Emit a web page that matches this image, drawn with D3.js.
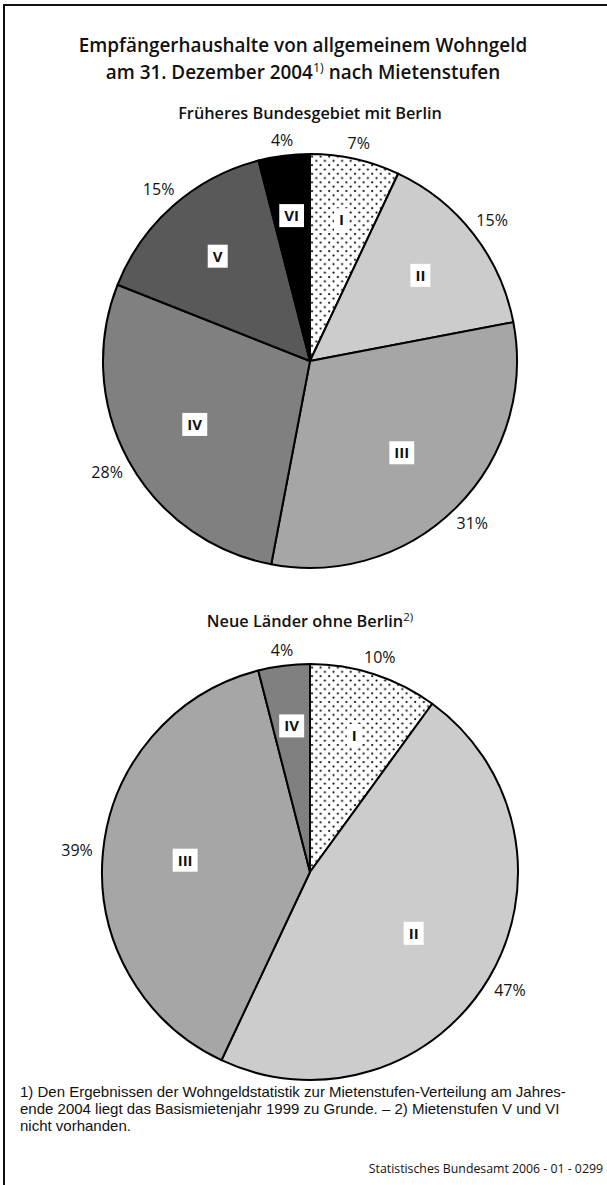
<!DOCTYPE html>
<html>
<head>
<meta charset="utf-8">
<script src="https://cdn.jsdelivr.net/npm/d3@7"></script>
<style>
  body { margin: 0; background: #fff; }
  text { font-family: "Open Sans", "Noto Sans", sans-serif; fill: #111; }
  text.fn { font-family: "Liberation Sans", Arial, sans-serif; }
</style>
</head>
<body>
<div id="chart"></div>
<script>
let width = 607, height = 1185;

// Mietenstufen
let stufen1 = ['I', 'II', 'III', 'IV', 'V', 'VI'];
let werte1 = [7, 15, 31, 28, 15, 4];
let stufen2 = ['I', 'II', 'III', 'IV'];
let werte2 = [10, 47, 39, 4];

let titel = ['Empfängerhaushalte von allgemeinem Wohngeld', 'am 31. Dezember 2004'];
let untertitel1 = 'Früheres Bundesgebiet mit Berlin';
let untertitel2 = 'Neue Länder ohne Berlin';
let fussnote = [
    '1) Den Ergebnissen der Wohngeldstatistik zur Mietenstufen-Verteilung am Jahres-',
    'ende 2004 liegt das Basismietenjahr 1999 zu Grunde. – 2) Mietenstufen V und VI',
    'nicht vorhanden.'
];
let quelle = 'Statistisches Bundesamt 2006 - 01 - 0299';

let fillColor = d3.scaleOrdinal()
    .domain(['I', 'II', 'III', 'IV', 'V', 'VI'])
    .range(['url(#dots)', '#cccccc', '#a6a6a6', '#808080', '#595959', '#000000']);

let svg = d3.select('#chart')
    .append('svg')
    .attr('width', width)
    .attr('height', height);

// dotted pattern for Mietenstufe I
let pattern = svg.append('defs')
    .append('pattern')
    .attr('id', 'dots')
    .attr('patternUnits', 'userSpaceOnUse')
    .attr('width', 8.6)
    .attr('height', 8.6);
pattern.append('rect').attr('width', 8.6).attr('height', 8.6).attr('fill', '#fff');
pattern.append('circle').attr('cx', 2).attr('cy', 2).attr('r', 1.1).attr('fill', '#000');
pattern.append('circle').attr('cx', 6.3).attr('cy', 6.3).attr('r', 1.1).attr('fill', '#000');

// frame (only left and top edge visible)
svg.append('path')
    .attr('d', 'M4,' + height + ' V5 H' + width)
    .attr('fill', 'none')
    .attr('stroke', '#111')
    .attr('stroke-width', 2);

// title
let t1 = svg.append('text')
    .attr('x', 303).attr('y', 52)
    .attr('text-anchor', 'middle')
    .style('font-size', '18.9px')
    .style('font-weight', 600)
    .text(titel[0]);
let t2 = svg.append('text')
    .attr('x', 303).attr('y', 79)
    .attr('text-anchor', 'middle')
    .style('font-size', '18.9px')
    .style('font-weight', 600);
t2.append('tspan').text(titel[1]);
t2.append('tspan').attr('dy', -7).style('font-size', '12.5px').style('font-weight', 400).text('1)');
t2.append('tspan').attr('dy', 7).text(' nach Mietenstufen');

function drawPie(cx, cy, r, stufen, werte, sub, subY, subNote) {
    let g = svg.append('g').attr('transform', 'translate(' + cx + ',' + cy + ')');

    let st = svg.append('text')
        .attr('x', cx).attr('y', subY)
        .attr('text-anchor', 'middle')
        .style('font-size', '16.3px')
        .style('font-weight', 600);
    st.append('tspan').text(sub);
    if (subNote) {
        st.append('tspan').attr('dy', -6).style('font-size', '11.5px').style('font-weight', 400).text(subNote);
    }

    let total = d3.sum(werte);
    let pie = d3.pie().sort(null).value(d => d.value);
    let arcs = pie(stufen.map((s, i) => ({ stufe: s, value: werte[i] })));

    let arc = d3.arc().innerRadius(0).outerRadius(r);
    // big slices get their label a bit closer to the centre
    let labelPos = d => {
        let rr = r * (0.72 - 0.3 * d.data.value / total);
        return d3.arc().innerRadius(rr).outerRadius(rr).centroid(d);
    };
    // outside labels sit a little further out at the sides than at the top
    let pctPos = d => {
        let a = (d.startAngle + d.endAngle) / 2;
        let rr = r + 14 + 12 * Math.abs(Math.sin(a));
        return [Math.sin(a) * rr, -Math.cos(a) * rr];
    };

    g.selectAll('path.slice')
        .data(arcs)
        .enter()
        .append('path')
        .attr('class', 'slice')
        .attr('d', arc)
        .attr('fill', d => fillColor(d.data.stufe))
        .attr('stroke', '#000')
        .attr('stroke-width', 2)
        .attr('stroke-linejoin', 'round');

    // roman numeral labels on white boxes
    let lab = g.selectAll('g.lab')
        .data(arcs)
        .enter()
        .append('g')
        .attr('class', 'lab')
        .attr('transform', d => 'translate(' + labelPos(d) + ')');
    lab.append('rect');
    lab.append('text')
        .attr('text-anchor', 'middle')
        .attr('dy', '0.36em')
        .style('font-size', '15px')
        .style('font-weight', 700)
        .text(d => d.data.stufe);
    lab.each(function () {
        let b = d3.select(this).select('text').node().getBBox();
        d3.select(this).select('rect')
            .attr('x', b.x - 5)
            .attr('y', -11.5)
            .attr('width', b.width + 10)
            .attr('height', 23)
            .attr('fill', '#fff');
    });

    // percentages outside
    g.selectAll('text.pct')
        .data(arcs)
        .enter()
        .append('text')
        .attr('class', 'pct')
        .attr('transform', d => 'translate(' + pctPos(d) + ')')
        .attr('text-anchor', 'middle')
        .attr('dy', '0.36em')
        .style('font-size', '16px')
        .text(d => d.data.value + '%');
}

drawPie(310, 361, 207, stufen1, werte1, untertitel1, 119, null);
drawPie(310, 872, 208, stufen2, werte2, untertitel2, 627, '2)');

// footnotes
svg.selectAll('text.fn')
    .data(fussnote)
    .enter()
    .append('text')
    .attr('class', 'fn')
    .attr('x', 20)
    .attr('y', (d, i) => 1097 + i * 17)
    .style('font-size', '15px')
    .text(d => d);

svg.append('text')
    .attr('x', 603).attr('y', 1173)
    .attr('text-anchor', 'end')
    .style('font-size', '12.3px')
    .text(quelle);
</script>
</body>
</html>
